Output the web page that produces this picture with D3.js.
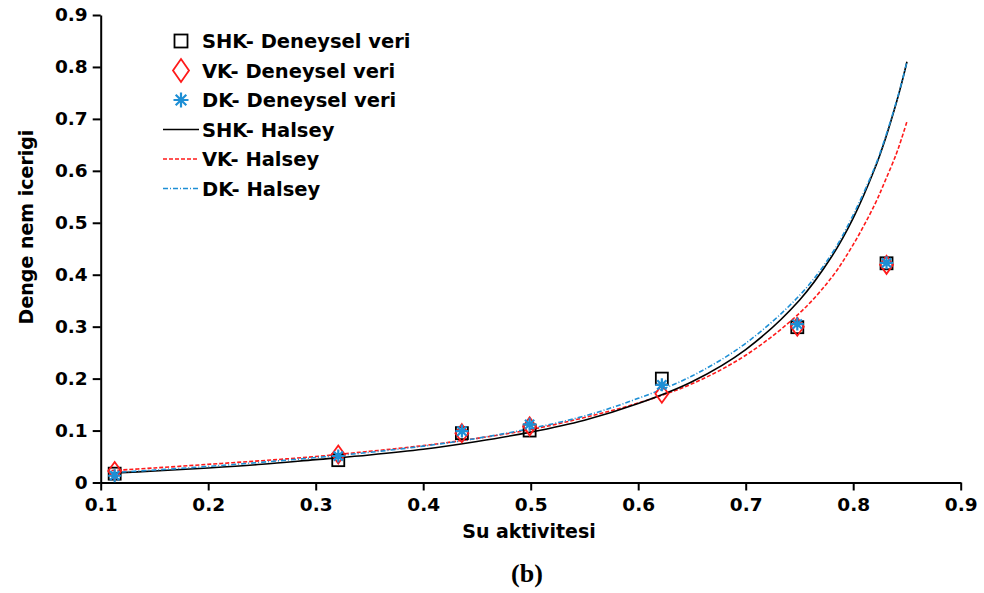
<!DOCTYPE html>
<html>
<head>
<meta charset="utf-8">
<style>
  body { margin: 0; background: #fff; }
  text { font-family: "DejaVu Sans", "Liberation Sans", Arial, sans-serif; font-weight: bold; }
  .axis text { font-size: 18.5px; fill: #000; font-family: "DejaVu Sans", sans-serif; }
  .axis path, .axis line { stroke: #000; stroke-width: 2px; }
  .axis_label { font-size: 19px; text-anchor: middle; }
  .legend text { font-size: 19.5px; }
</style>
</head>
<body>
<script src="https://cdn.jsdelivr.net/npm/d3@7"></script>
<script>
  // measured points (water activity vs equilibrium moisture)
  var awExp  = [0.113, 0.321, 0.436, 0.499, 0.622, 0.748, 0.831];
  var shkExp = [0.017, 0.043, 0.095, 0.100, 0.200, 0.299, 0.422];
  var vkExp  = [0.022, 0.054, 0.095, 0.108, 0.171, 0.300, 0.419];
  var dkExp  = [0.013, 0.051, 0.099, 0.112, 0.188, 0.305, 0.423];

  // Halsey curves
  var awFit  = [0.11, 0.15, 0.2, 0.25, 0.3, 0.35, 0.4, 0.45, 0.5, 0.55, 0.6, 0.65, 0.7, 0.75, 0.78, 0.8, 0.82, 0.83, 0.84, 0.845, 0.85];
  var shkFit = [0.018, 0.022, 0.028, 0.035, 0.044, 0.053, 0.064, 0.079, 0.097, 0.120, 0.152, 0.194, 0.256, 0.351, 0.435, 0.509, 0.604, 0.662, 0.730, 0.768, 0.81];
  var vkFit  = [0.023, 0.028, 0.035, 0.042, 0.050, 0.060, 0.071, 0.085, 0.102, 0.125, 0.153, 0.190, 0.245, 0.326, 0.395, 0.458, 0.535, 0.582, 0.632, 0.662, 0.695];
  var dkFit  = [0.019, 0.024, 0.031, 0.039, 0.048, 0.058, 0.070, 0.085, 0.104, 0.128, 0.162, 0.205, 0.268, 0.360, 0.440, 0.515, 0.607, 0.665, 0.732, 0.769, 0.81];

  var xTicks = [0.1, 0.2, 0.3, 0.4, 0.5, 0.6, 0.7, 0.8, 0.9];
  var yTicks = [0, 0.1, 0.2, 0.3, 0.4, 0.5, 0.6, 0.7, 0.8, 0.9];
  var legendLabels = ["SHK- Deneysel veri", "VK- Deneysel veri", "DK- Deneysel veri",
                      "SHK- Halsey", "VK- Halsey", "DK- Halsey"];

  var red = "#ff1a1a", blue = "#1e8fd5";

  var width = 984, height = 593;
  var margin = {left: 100.7, right: 23.3, top: 15, bottom: 110.5};

  var x = d3.scaleLinear().domain([0.1, 0.9]).range([margin.left, width - margin.right]);
  var y = d3.scaleLinear().domain([0, 0.9]).range([height - margin.bottom, margin.top]);

  var svg = d3.select("body").append("svg")
    .attr("width", width)
    .attr("height", height);

  // axes
  svg.append("g")
    .attr("class", "axis")
    .attr("transform", "translate(0," + y(0) + ")")
    .call(d3.axisBottom(x).tickValues(xTicks).tickFormat(d3.format(".1f"))
          .tickSize(8).tickSizeOuter(0).tickPadding(7));

  svg.append("g")
    .attr("class", "axis")
    .attr("transform", "translate(" + x(0.1) + ",0)")
    .call(d3.axisLeft(y).tickValues(yTicks)
          .tickFormat(function(d) { return d === 0 ? "0" : d3.format(".1f")(d); })
          .tickSize(8).tickSizeOuter(0).tickPadding(5));

  // curves
  var line = d3.line()
    .x(function(d) { return x(d[0]); })
    .y(function(d) { return y(d[1]); })
    .curve(d3.curveCatmullRom);

  var fits = [
    {vals: vkFit, color: red, dash: "4,2"},
    {vals: shkFit, color: "#000", dash: null},
    {vals: dkFit, color: blue, dash: "5,2,1,2"}
  ];
  fits.forEach(function(f) {
    svg.append("path")
      .datum(awFit.map(function(a, i) { return [a, f.vals[i]]; }))
      .attr("fill", "none")
      .attr("stroke", f.color)
      .attr("stroke-width", 1.6)
      .attr("stroke-dasharray", f.dash)
      .attr("d", line);
  });

  // marker helpers
  function drawSquare(g, cx, cy, s) {
    g.append("rect").attr("x", cx - s / 2).attr("y", cy - s / 2)
      .attr("width", s).attr("height", s)
      .attr("fill", "none").attr("stroke", "#000").attr("stroke-width", 1.8);
  }
  function drawDiamond(g, cx, cy, w, h) {
    g.append("path")
      .attr("d", "M" + cx + "," + (cy - h / 2) + "L" + (cx + w / 2) + "," + cy +
                 "L" + cx + "," + (cy + h / 2) + "L" + (cx - w / 2) + "," + cy + "Z")
      .attr("fill", "none").attr("stroke", red).attr("stroke-width", 1.8);
  }
  function drawStar(g, cx, cy, r) {
    var p = "";
    for (var k = 0; k < 4; k++) {
      var a = k * Math.PI / 4;
      p += "M" + (cx - r * Math.cos(a)) + "," + (cy - r * Math.sin(a)) +
           "L" + (cx + r * Math.cos(a)) + "," + (cy + r * Math.sin(a));
    }
    g.append("path").attr("d", p).attr("stroke", blue).attr("stroke-width", 2.2);
  }

  var pts = svg.append("g").attr("id", "points");
  awExp.forEach(function(a, i) { drawSquare(pts, x(a), y(shkExp[i]), 12); });
  awExp.forEach(function(a, i) { drawDiamond(pts, x(a), y(vkExp[i]), 13, 18); });
  awExp.forEach(function(a, i) { drawStar(pts, x(a), y(dkExp[i]), 6.5); });

  // legend
  var lg = svg.append("g").attr("class", "legend");
  var ly0 = 41, lstep = 29.5, lx = 202, lsym = 181;
  legendLabels.forEach(function(t, i) {
    var cy = ly0 + i * lstep;
    if (i === 0) drawSquare(lg, lsym, cy, 13);
    if (i === 1) drawDiamond(lg, lsym, cy, 16, 23);
    if (i === 2) drawStar(lg, lsym, cy, 7.5);
    if (i >= 3) {
      lg.append("line").attr("x1", 163).attr("x2", 199).attr("y1", cy).attr("y2", cy)
        .attr("stroke", fits[[1, 0, 2][i - 3]].color)
        .attr("stroke-width", 1.6)
        .attr("stroke-dasharray", fits[[1, 0, 2][i - 3]].dash);
    }
    lg.append("text").attr("x", lx).attr("y", cy).attr("dy", "0.36em").text(t);
  });

  // axis labels
  svg.append("text")
    .attr("class", "axis_label")
    .attr("x", 529)
    .attr("y", 538)
    .text("Su aktivitesi");

  svg.append("text")
    .attr("class", "axis_label")
    .attr("transform", "translate(33,227) rotate(-90)")
    .text("Denge nem icerigi");

  svg.append("text")
    .attr("x", 527)
    .attr("y", 582)
    .style("font-family", "'Liberation Serif', 'Times New Roman', serif")
    .style("font-size", "26px")
    .style("text-anchor", "middle")
    .text("(b)");
</script>
</body>
</html>
